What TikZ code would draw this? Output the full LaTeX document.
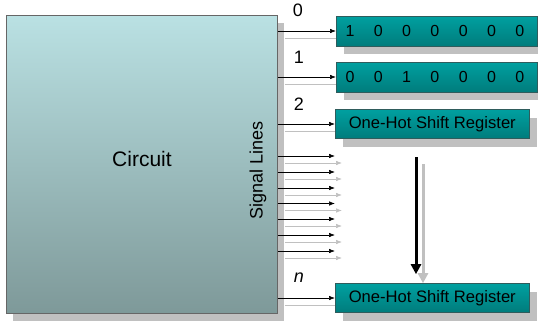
\documentclass[tikz,border=0pt]{standalone}
\usepackage{fontspec}
\setmainfont{Liberation Sans}
\usetikzlibrary{arrows.meta,shadows}
\definecolor{shadegray}{HTML}{C0C0C0}
\definecolor{circtop}{HTML}{BAE1E3}
\definecolor{circbot}{HTML}{7E9999}
\definecolor{regtop}{HTML}{00A0A0}
\definecolor{regbot}{HTML}{007C7C}
\definecolor{regedge}{HTML}{2F5C5C}
\begin{document}
\begin{tikzpicture}[x=1pt,y=-1pt,
  circuitbox/.style={draw=black!60, line width=0.8pt, top color=circtop, bottom color=circbot,
    drop shadow={shadow xshift=7pt, shadow yshift=-8pt, fill=shadegray, opacity=1}},
  regbox/.style={draw=regedge, line width=0.6pt, top color=regtop, bottom color=regbot,
    inner sep=0pt, anchor=north west,
    drop shadow={shadow xshift=8pt, shadow yshift=-8pt, fill=shadegray, opacity=1},
    font=\fontsize{16.6}{18}\selectfont},
  digit/.style={font=\fontsize{16}{18}\selectfont, inner sep=0pt},
  lbl/.style={font=\fontsize{18}{20}\selectfont, inner sep=0pt},
  sig/.style={draw=black, line width=0.6pt, -{Latex[length=6pt,width=4.5pt]}},
  sigsh/.style={draw=shadegray, line width=0.6pt, -{Latex[length=6pt,width=4.5pt]}},
  sigshline/.style={draw=shadegray, line width=0.6pt},
]
\useasboundingbox (0,0) rectangle (538,324);
\clip (0,0) rectangle (538,324);

% circuit
\node[circuitbox, minimum width=271pt, minimum height=298pt, anchor=north west, inner sep=0pt] (circ) at (6,15) {};
\node[font=\fontsize{21}{23}\selectfont] (circtext) at (142,159) {Circuit};
\node[lbl, rotate=90] (siglines) at (258,170) {Signal Lines};

% coordinates for the register rows
\coordinate (p0) at (336,31);
\coordinate (p1) at (336,77);
\coordinate (p2) at (335,124);
\coordinate (pn) at (335,298);

% gray shadow lines of register rows (under boxes)
\foreach \p in {p0,p1,p2,pn}{
  \draw[sigshline] ([shift={(7,7)}]circ.east |- \p) -- ([shift={(40,7)}]\p);
}

% free signal lines
\foreach \y [count=\i] in {156,172,188,203.5,219,235,251}{
  \coordinate (e\i) at (335,\y);
  \draw[sigsh] ([shift={(7,7)}]circ.east |- e\i) -- ([shift={(7,7)}]e\i);
  \draw[sig] (circ.east |- e\i) -- (e\i);
}

% registers
\node[regbox, minimum width=201pt, minimum height=30pt, anchor=west] (r0) at (p0) {};
\node[regbox, minimum width=201pt, minimum height=30pt, anchor=west] (r1) at (p1) {};
\node[regbox, minimum width=194pt, minimum height=29pt, anchor=west] (r2) at (p2) {One-Hot Shift Register};
\node[regbox, minimum width=194pt, minimum height=29pt, anchor=west] (rn) at (pn) {One-Hot Shift Register};

% digits
\foreach \d [count=\i from 0] in {1,0,0,0,0,0,0}{
  \node[digit] (a\i) at (350+28.3*\i,31) {\d};
}
\foreach \d [count=\i from 0] in {0,0,1,0,0,0,0}{
  \node[digit] (b\i) at (350+28.3*\i,77) {\d};
}

% arrows into registers
\draw[sig] (circ.east |- r0.west) -- (r0.west);
\draw[sig] (circ.east |- r1.west) -- (r1.west);
\draw[sig] (circ.east |- r2.west) -- (r2.west);
\draw[sig] (circ.east |- rn.west) -- (rn.west);

% labels
\node[lbl] (l0) at (298,10) {0};
\node[lbl] (l1) at (299,57) {1};
\node[lbl] (l2) at (299,104) {2};
\node[lbl, font=\fontsize{18}{20}\selectfont\itshape] (ln) at (299,278) {n};

% vertical shift arrow
\coordinate (vt) at (416,157);
\coordinate (vts) at (423,164);
\draw[shadegray, line width=3pt, -{Triangle[length=10pt,width=10pt]}] (vts) -- (vts |- rn.north);
\draw[black, line width=3pt, -{Triangle[length=10pt,width=10pt]}, shorten >=9pt] (vt) -- (vt |- rn.north);
\end{tikzpicture}
\end{document}
